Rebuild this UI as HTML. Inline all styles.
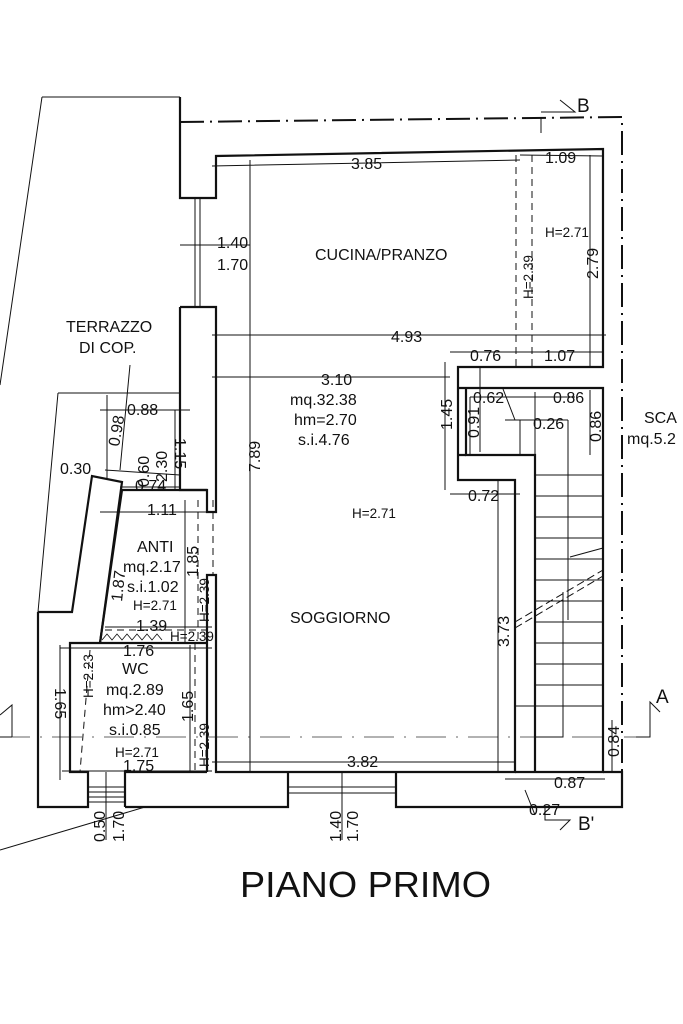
<!DOCTYPE html>
<html><head><meta charset="utf-8"><style>
html,body{margin:0;padding:0;background:#fff;}
svg{display:block;}
text{font-family:"Liberation Sans",Arial,sans-serif;fill:#111;}
</style></head><body>
<svg width="683" height="1024" viewBox="0 0 683 1024" xmlns="http://www.w3.org/2000/svg">
<g fill="none" stroke="#111">
<path d="M180,122 L622,117 L622,807" stroke-width="2" stroke-dasharray="24,6,2,6"/>
<path d="M0,737 L650,737" stroke-width="1" stroke="#666" stroke-dasharray="30,10,2,10"/>
<path d="M541,117 L541,133 M541,112 L575,112 L560,100" stroke-width="1"/>
<path d="M636,737 L650,737 L650,702 L660,712" stroke-width="1"/>
<path d="M545,807 L545,820 L570,820 L560,830" stroke-width="1"/>
<path d="M12,737 L0,737 M12,737 L12,705 L0,715" stroke-width="1"/>
<path d="M42,97 L180,97 M42,97 L0,385" stroke-width="1"/>
<path d="M58,393 L180,393 M58,393 L38,612" stroke-width="1"/>
<path d="M0,850 L145,807" stroke-width="1"/>
<g stroke-width="2.2">
<path d="M180,97 L180,198 L216,198 L216,156 L603,149 L603,367 L458,367 L458,480 L515,480 L515,772 L216,772 L216,575 L207,575 L207,772"/>
<path d="M180,307 L216,307 L216,512 L207,512 L207,490 L180,490 L180,307"/>
<path d="M466,388 L603,388 L603,772 L515,772"/>
<path d="M466,388 L466,455 L535,455 L535,772"/>
<path d="M458,388 L466,388 M458,455 L466,455"/>
<path d="M38,612 L72,612 L92,476 L122,482 L100,643"/>
<path d="M38,612 L38,807 L88,807 L88,772 L70,772 L70,643 L207,643 M125,807 L125,772 L207,772"/>
<path d="M125,807 L288,807 L288,772 M396,772 L396,807 L622,807 L622,772 L603,772"/>
<path d="M122,490 L207,490 M122,490 L100,643"/>
</g>
<g stroke-width="1">
<path d="M195,198 L195,307 M200,198 L200,307 M180,245 L250,245"/>
<path d="M288,787 L396,787 M288,793 L396,793 M342,772 L342,840"/>
<path d="M88,787 L125,787 M88,792 L125,792 M88,797 L125,797 M88,802 L125,802 M106,772 L106,840"/>
</g>
<g stroke-width="1">
<path d="M535,475 L603,475 M535,496 L603,496 M535,517 L603,517 M535,538 L603,538 M535,559 L603,559 M535,580 L603,580 M535,601 L603,601 M535,622 L603,622 M535,643 L603,643 M535,664 L603,664 M535,685 L603,685 M515,706 L603,706"/>
<path d="M568,420 L568,620 M520,420 L520,455 M505,420 L568,420"/>
<path d="M563,592 L563,737 L535,737" />
<path d="M570,557 L603,548" />
<path d="M480,366 L480,452 M535,392 L535,455 M503,389 L515,420"/>
</g>
<path d="M515,622 L603,570 M515,628 L603,576" stroke-width="1" stroke-dasharray="8,4"/>
<g stroke-width="1" stroke-dasharray="7,5">
<path d="M516,155 L516,367 M532,155 L532,367"/>
<path d="M198,500 L198,643 M213,500 L213,575"/>
<path d="M105,630 L207,630"/>
<path d="M90,650 L80,772"/>
<path d="M195,643 L195,772"/>
</g>
<g stroke-width="1">
<path d="M212,166 L520,160 M520,155 L603,156 M250,160 L250,772 M590,155 L590,367"/>
<path d="M212,335 L606,335 M450,352 L603,352 M212,377 L450,377 M445,362 L445,490"/>
<path d="M470,397 L575,397 M470,397 L470,455 M590,390 L590,455 M450,494 L520,494 M498,480 L498,772 M212,762 L515,762"/>
<path d="M100,410 L190,410 M107,395 L107,480 M130,365 L120,470 M105,470 L180,475 M120,487 L180,487 M175,410 L175,490 M100,512 L212,512 M105,627 L212,627 M185,500 L185,643 M60,648 L212,648 M60,645 L60,780 M190,645 L190,772 M62,771 L212,771"/>
<path d="M505,779 L605,779 M612,720 L612,772 M525,790 L535,815"/>
</g>
</g>
<path d="M102,640 L107,634 L112,640 L117,634 L122,640 L127,634 L132,640 L137,634 L142,640 L147,634 L152,640 L157,634 L162,640" fill="none" stroke="#111" stroke-width="0.8"/>
<g font-size="16">
<text x="351" y="169">3.85</text>
<text x="545" y="163">1.09</text>
<text x="217" y="248">1.40</text>
<text x="217" y="270">1.70</text>
<text x="315" y="260">CUCINA/PRANZO</text>
<text x="545" y="237" font-size="13.5">H=2.71</text>
<text x="391" y="342">4.93</text>
<text x="470" y="361">0.76</text>
<text x="544" y="361">1.07</text>
<text x="321" y="385">3.10</text>
<text x="290" y="405">mq.32.38</text>
<text x="294" y="425">hm=2.70</text>
<text x="298" y="445">s.i.4.76</text>
<text x="473" y="403">0.62</text>
<text x="553" y="403">0.86</text>
<text x="533" y="429">0.26</text>
<text x="468" y="501">0.72</text>
<text x="352" y="518" font-size="13.5" fill="#444">H=2.71</text>
<text x="290" y="623">SOGGIORNO</text>
<text x="347" y="767">3.82</text>
<text x="644" y="423">SCA</text>
<text x="627" y="444">mq.5.2</text>
<text x="656" y="703" font-size="19">A</text>
<text x="577" y="112" font-size="19">B</text>
<text x="578" y="830" font-size="19">B'</text>
<text x="554" y="788">0.87</text>
<text x="529" y="815">0.27</text>
<text x="66" y="332">TERRAZZO</text>
<text x="79" y="353">DI COP.</text>
<text x="127" y="415">0.88</text>
<text x="60" y="474">0.30</text>
<text x="135" y="491">0.74</text>
<text x="147" y="515">1.11</text>
<text x="137" y="552">ANTI</text>
<text x="123" y="572">mq.2.17</text>
<text x="127" y="592">s.i.1.02</text>
<text x="133" y="610" font-size="13.5">H=2.71</text>
<text x="136" y="631">1.39</text>
<text x="170" y="641" font-size="13.5">H=2.39</text>
<text x="123" y="656">1.76</text>
<text x="122" y="674">WC</text>
<text x="106" y="695">mq.2.89</text>
<text x="103" y="715">hm&gt;2.40</text>
<text x="109" y="735">s.i.0.85</text>
<text x="115" y="757" font-size="13.5">H=2.71</text>
<text x="123" y="771">1.75</text>
</g>
<g font-size="16">
<text transform="translate(260,472) rotate(-90)">7.89</text>
<text transform="translate(598,279) rotate(-90)">2.79</text>
<text transform="translate(533,299) rotate(-90)" font-size="13.5">H=2.39</text>
<text transform="translate(452,430) rotate(-90)">1.45</text>
<text transform="translate(479,438) rotate(-90)">0.91</text>
<text transform="translate(601,442) rotate(-90)">0.86</text>
<text transform="translate(509,647) rotate(-90)">3.73</text>
<text transform="translate(619,757) rotate(-90)">0.84</text>
<text transform="translate(119,447) rotate(-80)">0.98</text>
<text transform="translate(149,487) rotate(-90)">0.60</text>
<text transform="translate(167,482) rotate(-90)">2.30</text>
<text transform="translate(175,438) rotate(90)">1.15</text>
<text transform="translate(122,602) rotate(-84)">1.87</text>
<text transform="translate(198,577) rotate(-90)">1.85</text>
<text transform="translate(209,622) rotate(-90)" font-size="13.5">H=2.39</text>
<text transform="translate(93,698) rotate(-90)" font-size="13.5">H=2.23</text>
<text transform="translate(55,688) rotate(90)">1.65</text>
<text transform="translate(193,722) rotate(-90)">1.65</text>
<text transform="translate(209,767) rotate(-90)" font-size="13.5">H=2.39</text>
<text transform="translate(105,842) rotate(-90)">0.50</text>
<text transform="translate(124,842) rotate(-90)">1.70</text>
<text transform="translate(341,842) rotate(-90)">1.40</text>
<text transform="translate(358,842) rotate(-90)">1.70</text>
</g>
<text x="240" y="897" font-size="36" textLength="251" lengthAdjust="spacingAndGlyphs">PIANO PRIMO</text>
</svg>
</body></html>
